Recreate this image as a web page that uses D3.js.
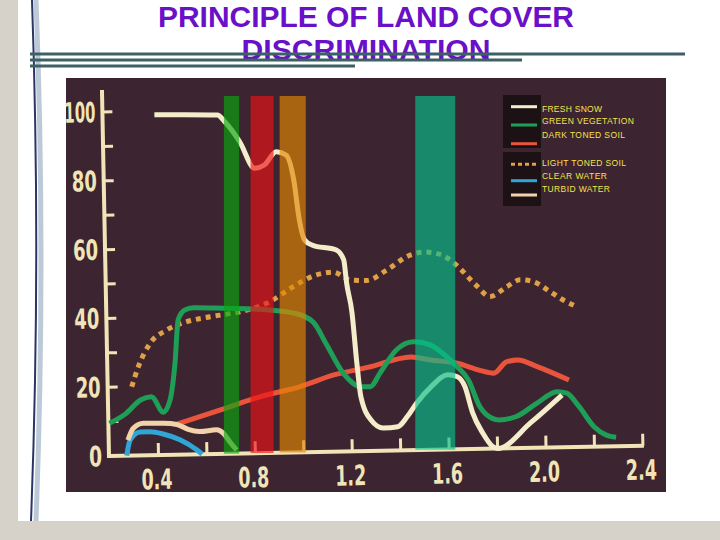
<!DOCTYPE html>
<html><head><meta charset="utf-8">
<script src="https://cdn.jsdelivr.net/npm/d3@7/dist/d3.min.js"></script>
<style>html,body{margin:0;padding:0;background:#fff;}svg{display:block;}</style>
</head><body>
<script>
// ---------- data ----------
const titleLines = ["PRINCIPLE OF LAND COVER", "DISCRIMINATION"];
const xTickValues = [0.4,0.6,0.8,1.0,1.2,1.4,1.6,1.8,2.0,2.2,2.4];
const xTickLabels = ["0.4","0.8","1.2","1.6","2.0","2.4"];
const yTickValues = [10,20,30,40,50,60,70,80,90,100];
const yTickLabels = ["0","20","40","60","80","100"];

const freshSnow = [[0.41,98.9],[0.67,98.5],[0.70,96.5],[0.76,90.6],[0.82,82.8],[0.86,83.7],[0.91,87.5],[0.95,86.5],[0.98,79.2],[1.00,67.5],[1.02,61.7],[1.05,60.2],[1.15,58.6],[1.18,55.7],[1.19,49],[1.21,40.2],[1.226,25.6],[1.24,15.8],[1.28,9.0],[1.33,6.6],[1.39,6.9],[1.43,9.8],[1.47,13.7],[1.53,18.3],[1.60,21.7],[1.64,21.1],[1.67,18.2],[1.70,10.5],[1.74,4.6],[1.78,0.6],[1.80,0],[1.94,7.4],[2.07,15.2]];
const greenVegetation = [[0.20,9.5],[0.27,12.3],[0.33,16.1],[0.376,17.0],[0.423,12.4],[0.452,15.9],[0.476,27],[0.492,39.2],[0.52,42],[0.555,42.6],[0.68,42.3],[0.83,41.8],[0.97,40.5],[1.05,37.7],[1.10,31.5],[1.17,22.7],[1.24,18.7],[1.28,18.7],[1.32,22.5],[1.39,29.2],[1.46,31.5],[1.53,30.5],[1.58,28],[1.64,24],[1.685,20.1],[1.73,12.3],[1.78,8.8],[1.81,8.3],[1.88,9.2],[1.965,12.9],[2.05,16.2],[2.09,15.7],[2.14,11.7],[2.20,5.8],[2.25,3.3],[2.29,2.6]];
const darkTonedSoil = [[0.48,8.9],[0.66,12.8],[0.82,16.3],[0.99,19.1],[1.13,22.3],[1.27,24.3],[1.45,27.1],[1.53,26.1],[1.64,25],[1.73,22.9],[1.79,21.9],[1.845,25.2],[1.89,25.6],[1.97,23.6],[2.10,19.5]];
const lightTonedSoil = [[0.295,20],[0.324,25.8],[0.374,32.5],[0.444,36.3],[0.527,38.6],[0.624,39.9],[0.748,41.2],[0.859,43.5],[0.97,48.2],[1.053,51.2],[1.136,52.2],[1.205,49.8],[1.273,49.6],[1.357,52.5],[1.454,56.7],[1.516,57.5],[1.584,56.6],[1.639,53.9],[1.727,47.4],[1.781,44.2],[1.851,47],[1.906,48.9],[1.961,48.3],[2.029,45.3],[2.083,42.8],[2.138,40.8]];
const clearWater = [[0.269,0],[0.284,4.5],[0.326,6.8],[0.367,6.8],[0.421,6.1],[0.49,4.3],[0.558,1.3],[0.58,0]];
const turbidWater = [[0.275,4.5],[0.298,7.9],[0.34,9.3],[0.422,9.2],[0.478,8.8],[0.524,7.3],[0.573,6.6],[0.642,7.0],[0.669,6.0],[0.696,3.4],[0.723,1.0]];

const bandRanges = [[0.67,0.733],[0.78,0.875],[0.90,1.008],[1.46,1.625]];
const bandColors = ["#07a80e","#ee1117","#e28600","#04c08c"];

const legendLabels = ["FRESH SNOW","GREEN VEGETATION","DARK TONED SOIL","LIGHT TONED SOIL","CLEAR WATER","TURBID WATER"];
const legendColors = ["#f4edcc","#1f9e58","#e8553c","#e0a048","#2fa6d6","#f2d2a8"];

// ---------- layout ----------
const W = 720, H = 540;
const svg = d3.select("body").append("svg").attr("width", W).attr("height", H);

// slide background
svg.append("rect").attr("x",0).attr("y",0).attr("width",W).attr("height",H).attr("fill","#ffffff");
svg.append("rect").attr("x",0).attr("y",0).attr("width",18).attr("height",H).attr("fill","#d6d2ca");
svg.append("rect").attr("x",0).attr("y",521).attr("width",W).attr("height",H-521).attr("fill","#d6d2ca");
svg.append("path").attr("d","M36,0 Q46,260 36,521").attr("fill","none").attr("stroke","#bccad8").attr("stroke-width",5);
svg.append("path").attr("d","M32,0 Q41,260 31,521").attr("fill","none").attr("stroke","#2c3566").attr("stroke-width",2);

// title
svg.selectAll("text.title").data(titleLines).enter().append("text")
  .attr("class","title")
  .attr("x",366).attr("y",(d,i)=>27+i*33)
  .attr("text-anchor","middle")
  .attr("font-family","'Liberation Sans', Arial, sans-serif")
  .attr("font-weight","bold").attr("font-size",29)
  .attr("textLength",(d,i)=>i===0?416:249).attr("lengthAdjust","spacingAndGlyphs")
  .attr("fill","#6a10c8")
  .text(d=>d);

// decorative lines
const decoLines = [[30,685,54],[30,522,60],[30,355,66]];
svg.selectAll("line.deco").data(decoLines).enter().append("line")
  .attr("x1",d=>d[0]).attr("x2",d=>d[1]).attr("y1",d=>d[2]).attr("y2",d=>d[2])
  .attr("stroke","#3d6064").attr("stroke-width",3);

// photo area
svg.append("rect").attr("x",66).attr("y",78).attr("width",600).attr("height",414).attr("fill","#3c2530");

// scales (local, un-rotated frame)
const ox = 109, oy = 456;
const x = d3.scaleLinear().domain([0.4,2.4]).range([158.5,643]);
const y = d3.scaleLinear().domain([0,100]).range([oy, oy-344]);
const ang = -1.1;

const plot = svg.append("g").attr("transform",`rotate(${ang},${ox},${oy})`);
const cream = "#f1e5b8";

// axis lines
plot.append("line").attr("x1",ox).attr("x2",x(2.4)+1).attr("y1",oy).attr("y2",oy)
  .attr("stroke",cream).attr("stroke-width",4);
plot.append("line").attr("x1",ox).attr("x2",ox).attr("y1",oy+2).attr("y2",90)
  .attr("stroke",cream).attr("stroke-width",4);
plot.selectAll("line.xt").data(xTickValues).enter().append("line")
  .attr("x1",d=>x(d)).attr("x2",d=>x(d)).attr("y1",oy).attr("y2",oy-12)
  .attr("stroke",cream).attr("stroke-width",3);
plot.selectAll("line.yt").data(yTickValues).enter().append("line")
  .attr("x1",ox).attr("x2",ox+10).attr("y1",d=>y(d)).attr("y2",d=>y(d))
  .attr("stroke",cream).attr("stroke-width",3);

const numFont = "'Liberation Sans Narrow','DejaVu Sans Condensed','Liberation Sans',sans-serif";
plot.selectAll("text.xl").data(xTickLabels).enter().append("text")
  .attr("x",d=>x(+d)-2).attr("y",oy+34)
  .attr("text-anchor","middle")
  .attr("font-family",numFont).attr("font-weight","bold").attr("font-size",28)
  .attr("textLength",31).attr("lengthAdjust","spacingAndGlyphs")
  .attr("fill",cream).text(d=>d);
plot.selectAll("text.yl").data(yTickLabels).enter().append("text")
  .attr("x",102).attr("y",d=>y(+d)+10)
  .attr("text-anchor","end")
  .attr("font-family",numFont).attr("font-weight","bold").attr("font-size",28)
  .attr("textLength",d=>d.length===3?31:(d.length===2?25:13)).attr("lengthAdjust","spacingAndGlyphs")
  .attr("fill",cream).text(d=>d);

// curves
const line = d3.line().x(d=>x(d[0])).y(d=>y(d[1])).curve(d3.curveMonotoneX);
const series = [
  {data: lightTonedSoil, color: legendColors[3], dash: "5,5", w: 5},
  {data: darkTonedSoil, color: legendColors[2], dash: null, w: 5},
  {data: greenVegetation, color: legendColors[1], dash: null, w: 5},
  {data: clearWater, color: legendColors[4], dash: null, w: 5},
  {data: turbidWater, color: legendColors[5], dash: null, w: 5},
  {data: freshSnow, color: legendColors[0], dash: null, w: 5}
];
plot.selectAll("path.curve").data(series).enter().append("path")
  .attr("d",d=>line(d.data))
  .attr("fill","none").attr("stroke",d=>d.color).attr("stroke-width",d=>d.w)
  .attr("stroke-dasharray",d=>d.dash).attr("stroke-linejoin","round");

// bands (overlay, not rotated)
const axisYAt = px => oy - Math.tan(-ang*Math.PI/180)*(px-ox);
svg.selectAll("rect.band").data(bandRanges).enter().append("rect")
  .attr("x",d=>x(d[0])).attr("width",d=>x(d[1])-x(d[0]))
  .attr("y",96).attr("height",d=>axisYAt((x(d[0])+x(d[1]))/2)-96)
  .attr("fill",(d,i)=>bandColors[i]).attr("opacity",0.65);

// legend
svg.append("rect").attr("x",503).attr("y",95).attr("width",38).attr("height",53).attr("fill","#1c1216");
svg.append("rect").attr("x",503).attr("y",152).attr("width",38).attr("height",54).attr("fill","#1c1216");
const swatchY = [106.7,125,143.7,164.3,180.7,195];
const textY = [112,124,138,166,178.5,192];
const textLen = [60,92,83,84,65,68];
svg.selectAll("line.lg").data(legendLabels).enter().append("line")
  .attr("x1",511).attr("x2",537).attr("y1",(d,i)=>swatchY[i]).attr("y2",(d,i)=>swatchY[i])
  .attr("stroke",(d,i)=>legendColors[i]).attr("stroke-width",3)
  .attr("stroke-dasharray",(d,i)=>i===3?"4,3":null);
svg.selectAll("text.lg").data(legendLabels).enter().append("text")
  .attr("x",542).attr("y",(d,i)=>textY[i])
  .attr("font-family","'Liberation Sans', Arial, sans-serif").attr("font-size",8.5)
  .attr("textLength",(d,i)=>textLen[i]).attr("lengthAdjust","spacing")
  .attr("fill","#f3e44a").text(d=>d);
</script>
</body></html>
